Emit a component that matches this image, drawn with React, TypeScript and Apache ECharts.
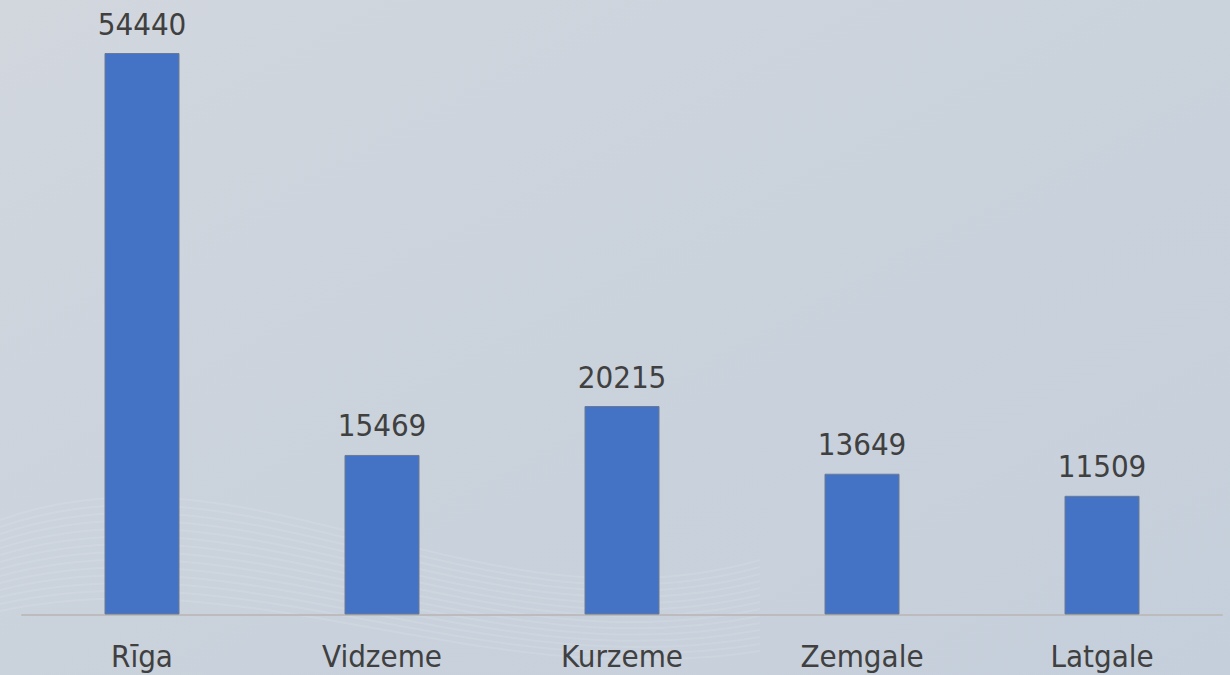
import React, { useEffect, useRef } from "react";
import * as echarts from "echarts";

const categories = ["Rīga", "Vidzeme", "Kurzeme", "Zemgale", "Latgale"];
const values = [54440, 15469, 20215, 13649, 11509];

const FONT = "'DejaVu Sans Condensed', 'Liberation Sans', sans-serif";

export default function App() {
  const ref = useRef<HTMLDivElement>(null);
  useEffect(() => {
    if (!ref.current) return;
    const chart = echarts.init(ref.current, undefined, { renderer: "svg" });
    const waves: any[] = [];
    for (let i = 0; i < 14; i++) {
      const o = i * 7;
      waves.push({
        type: "bezierCurve",
        silent: true,
        shape: {
          x1: 0, y1: 520 + o,
          cpx1: 250, cpy1: 430 + o * 1.4,
          cpx2: 480, cpy2: 640 + o * 0.6,
          x2: 760, y2: 560 + o,
        },
        style: { stroke: "rgba(255,255,255,0.10)", lineWidth: 2, fill: null },
      });
    }
    chart.setOption({
      animation: false,
      backgroundColor: {
        type: "linear",
        x: 0, y: 0, x2: 1, y2: 1,
        colorStops: [
          { offset: 0, color: "#d2d7de" },
          { offset: 0.5, color: "#cad2dc" },
          { offset: 1, color: "#c5cfdb" },
        ],
      },
      graphic: waves,
      grid: { left: 22, right: 8, top: 0, bottom: 60.5, containLabel: false },
      xAxis: {
        type: "category",
        data: categories,
        axisLine: { show: true, lineStyle: { color: "#bcbcbc", width: 2 } },
        axisTick: { show: false },
        axisLabel: {
          color: "#404040",
          fontFamily: FONT,
          fontSize: 31,
          margin: 26,
        },
      },
      yAxis: {
        type: "value",
        min: 0,
        max: 59580,
        show: false,
        splitLine: { show: false },
      },
      series: [
        {
          type: "bar",
          data: values,
          barWidth: 75,
          itemStyle: { color: "#4472c4", borderColor: "#6b7a94", borderWidth: 1 },
          label: {
            show: true,
            position: "top",
            distance: 14,
            color: "#404040",
            fontFamily: FONT,
            fontSize: 31,
          },
        },
      ],
    });
    return () => chart.dispose();
  }, []);
  return (
    <div
      ref={ref}
      style={{ position: "fixed", left: 0, top: 0, width: 1230, height: 675 }}
    />
  );
}
